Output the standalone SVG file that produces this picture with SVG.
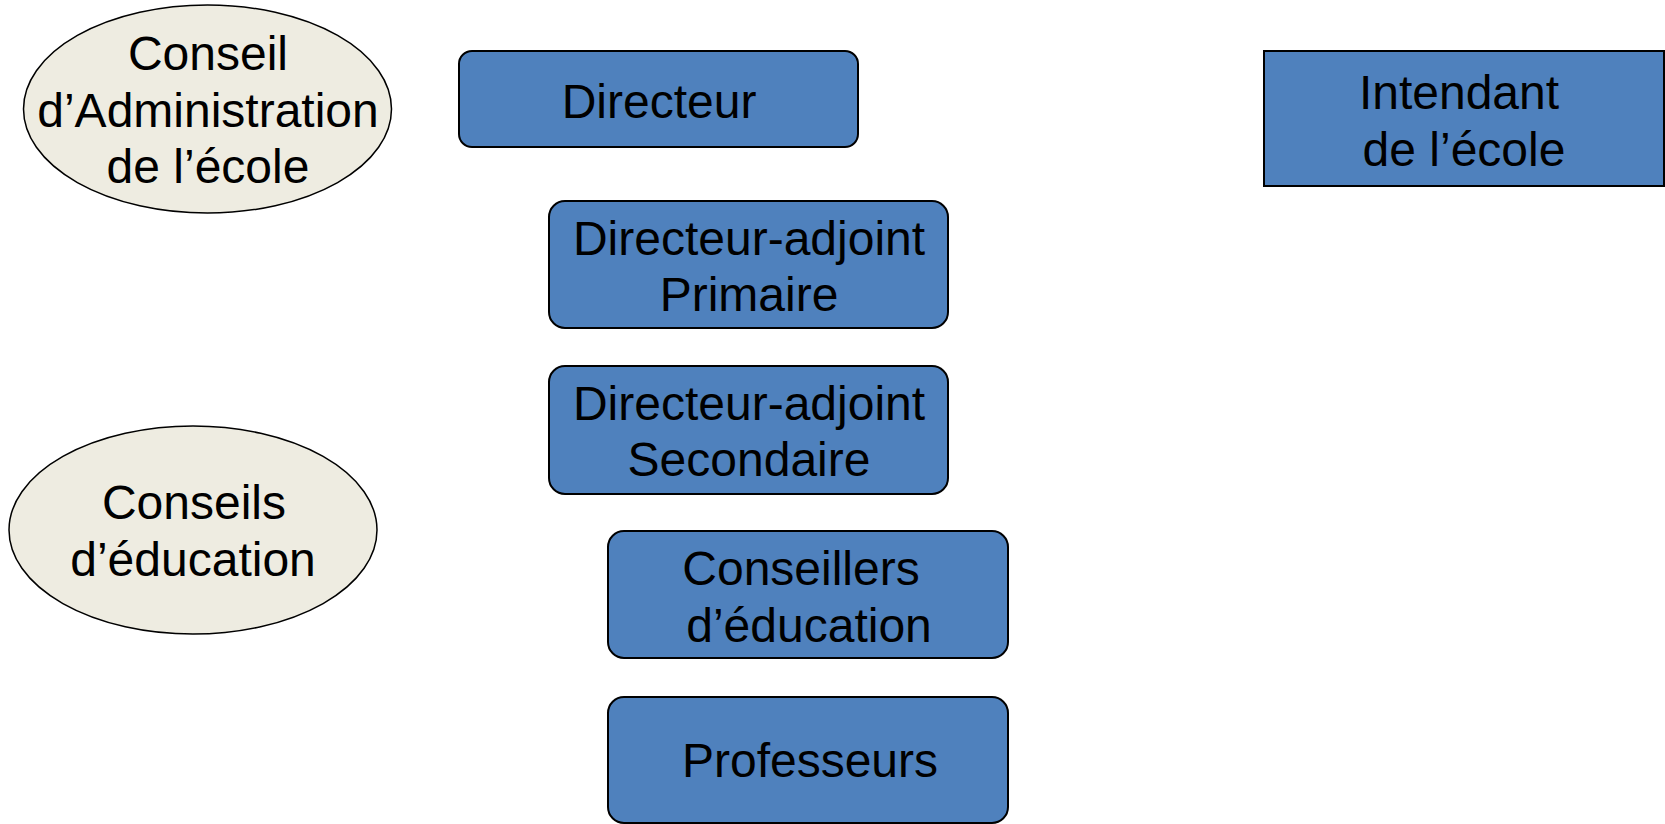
<svg xmlns="http://www.w3.org/2000/svg" width="1665" height="824" viewBox="0 0 1665 824">
<style>
.box{fill:#4F81BD;stroke:#000;stroke-width:2}
.ell{fill:#EEECE1;stroke:#000;stroke-width:1.5}
text{font-family:"Liberation Sans",Arial,sans-serif;font-size:48px;fill:#000;text-anchor:middle}
</style>
<rect width="1665" height="824" fill="#fff"/>
<g id="connectors"></g>
<g id="conseil-admin">
<ellipse class="ell" cx="207.5" cy="109" rx="184" ry="104"/>
<text x="208" y="70">Conseil</text>
<text x="208" y="126.5">d’Administration</text>
<text x="208" y="183">de l’école</text>
</g>
<g id="directeur">
<rect class="box" x="459" y="51" width="399" height="96" rx="13"/>
<text x="659" y="118">Directeur</text>
</g>
<g id="intendant">
<rect class="box" x="1264" y="51" width="400" height="135"/>
<text x="1459" y="109">Intendant</text>
<text x="1464" y="166">de l’école</text>
</g>
<g id="da-primaire">
<rect class="box" x="549" y="201" width="399" height="127" rx="16"/>
<text x="749" y="255">Directeur-adjoint</text>
<text x="749" y="311">Primaire</text>
</g>
<g id="da-secondaire">
<rect class="box" x="549" y="366" width="399" height="128" rx="16"/>
<text x="749" y="419.5">Directeur-adjoint</text>
<text x="749" y="476">Secondaire</text>
</g>
<g id="conseils-education">
<ellipse class="ell" cx="193" cy="530" rx="184" ry="104"/>
<text x="194" y="519">Conseils</text>
<text x="193" y="576">d’éducation</text>
</g>
<g id="conseillers">
<rect class="box" x="608" y="531" width="400" height="127" rx="16"/>
<text x="801" y="585">Conseillers</text>
<text x="809" y="641.5">d’éducation</text>
</g>
<g id="professeurs">
<rect class="box" x="608" y="697" width="400" height="126" rx="16"/>
<text x="810" y="777">Professeurs</text>
</g>
</svg>
